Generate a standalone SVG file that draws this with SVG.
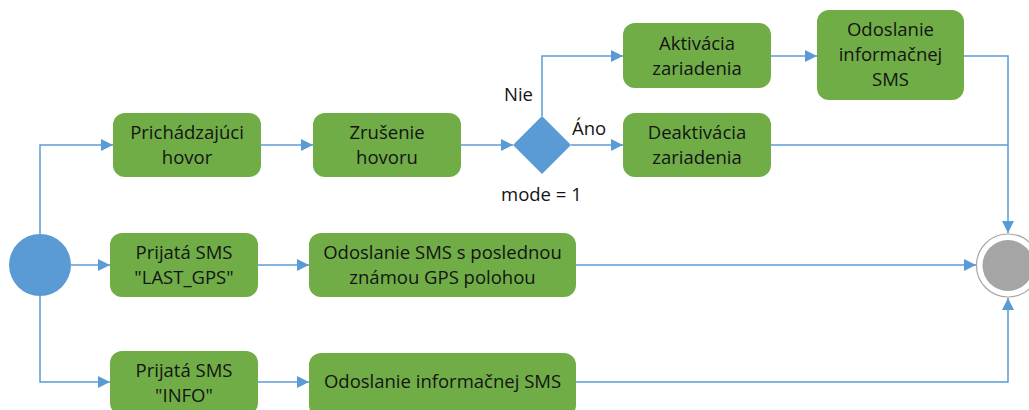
<svg xmlns="http://www.w3.org/2000/svg" width="1029" height="410" viewBox="0 0 1029 410">
<style>
.box{fill:#70ad47;}
.t{font-family:"Open Sans","Liberation Sans",sans-serif;font-size:18.5px;fill:#141414;text-anchor:middle;}
.l{font-family:"Open Sans","Liberation Sans",sans-serif;font-size:18.5px;fill:#141414;}
.c{fill:none;stroke:#5b9bd5;stroke-width:1.5;}
.a{marker-end:url(#ah);}
</style>
<defs>
<marker id="ah" markerUnits="userSpaceOnUse" markerWidth="12" markerHeight="12" viewBox="0 0 12 12" refX="12" refY="6" orient="auto">
<path d="M0,0 L12,6 L0,12 z" fill="#5b9bd5"/>
</marker>
</defs>
<rect width="1029" height="410" fill="#ffffff"/>
<g id="connectors">
<path class="c a" d="M40,234 V145 H113"/>
<path class="c a" d="M40,296 V382 H110"/>
<path class="c a" d="M71,265 H110"/>
<path class="c a" d="M261,145 H313"/>
<path class="c a" d="M461,145 H513"/>
<path class="c a" d="M542,116 V56 H623"/>
<path class="c a" d="M571,145 H623"/>
<path class="c a" d="M771,56 H817"/>
<path class="c a" d="M964,56 H1008 V233"/>
<path class="c" d="M771,145 H1008"/>
<path class="c a" d="M258,265 H309"/>
<path class="c a" d="M576,265 H976"/>
<path class="c a" d="M258,382 H309"/>
<path class="c a" d="M576,382 H1008 V298"/>
</g>
<g id="start"><circle cx="40" cy="265" r="31" fill="#5b9bd5"/></g>
<g id="end"><circle cx="1008" cy="265.5" r="31.5" fill="#ffffff" stroke="#a6a6a6" stroke-width="1.2"/><circle cx="1008" cy="265.5" r="25.5" fill="#a5a5a5"/></g>
<g id="n1"><rect class="box" x="113" y="113" width="148" height="64" rx="12"/><text class="t" x="187" y="139">Prichádzajúci</text><text class="t" x="187" y="164">hovor</text></g>
<g id="n2"><rect class="box" x="313" y="113" width="148" height="64" rx="12"/><text class="t" x="387" y="139">Zrušenie</text><text class="t" x="387" y="164">hovoru</text></g>
<g id="dec"><path d="M542,116 L571,145 L542,174 L513,145 z" fill="#5b9bd5"/></g>
<g id="labels">
<text class="l" x="504" y="101">Nie</text>
<text class="l" x="572" y="135">Áno</text>
<text class="l" x="501" y="201">mode = 1</text>
</g>
<g id="n3"><rect class="box" x="623" y="23" width="148" height="65" rx="12"/><text class="t" x="697" y="50">Aktivácia</text><text class="t" x="697" y="75">zariadenia</text></g>
<g id="n4"><rect class="box" x="623" y="113" width="148" height="64" rx="12"/><text class="t" x="697" y="139">Deaktivácia</text><text class="t" x="697" y="164">zariadenia</text></g>
<g id="n5"><rect class="box" x="817" y="10" width="147" height="90" rx="12"/><text class="t" x="890.5" y="36">Odoslanie</text><text class="t" x="890.5" y="61">informačnej</text><text class="t" x="890.5" y="86">SMS</text></g>
<g id="n6"><rect class="box" x="110" y="233" width="148" height="64" rx="12"/><text class="t" x="184" y="259">Prijatá SMS</text><text class="t" x="184" y="284">"LAST_GPS"</text></g>
<g id="n7"><rect class="box" x="309" y="233" width="267" height="64" rx="12"/><text class="t" x="442.5" y="259">Odoslanie SMS s poslednou</text><text class="t" x="442.5" y="284">známou GPS polohou</text></g>
<g id="n8"><rect class="box" x="110" y="351" width="148" height="64" rx="12"/><text class="t" x="184" y="377">Prijatá SMS</text><text class="t" x="184" y="402">"INFO"</text></g>
<g id="n9"><rect class="box" x="309" y="353" width="267" height="64" rx="12"/><text class="t" x="442.5" y="388">Odoslanie informačnej SMS</text></g>
</svg>
